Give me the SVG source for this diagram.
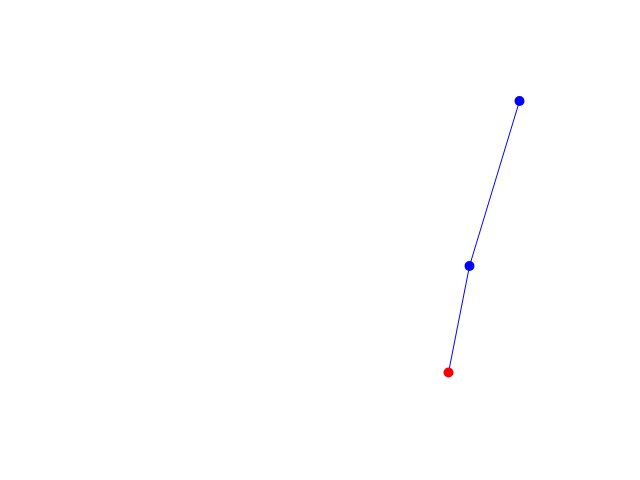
<svg xmlns="http://www.w3.org/2000/svg" width="640" height="480" viewBox="0 0 640 480">
<style>
.edge{stroke:#0000ff;stroke-width:1;fill:none}
.blue{fill:#0000ff}
.red{fill:#ff0000}
</style>
<rect width="640" height="480" fill="#ffffff"/>
<g id="connectors">
<polyline class="edge" points="448.5,372.5 469.5,266 519.5,101"/>
</g>
<g id="node-top"><circle class="blue" cx="519.5" cy="101" r="5"/></g>
<g id="node-mid"><circle class="blue" cx="469.5" cy="266" r="5"/></g>
<g id="node-start"><circle class="red" cx="448.5" cy="372.5" r="5"/></g>
</svg>
